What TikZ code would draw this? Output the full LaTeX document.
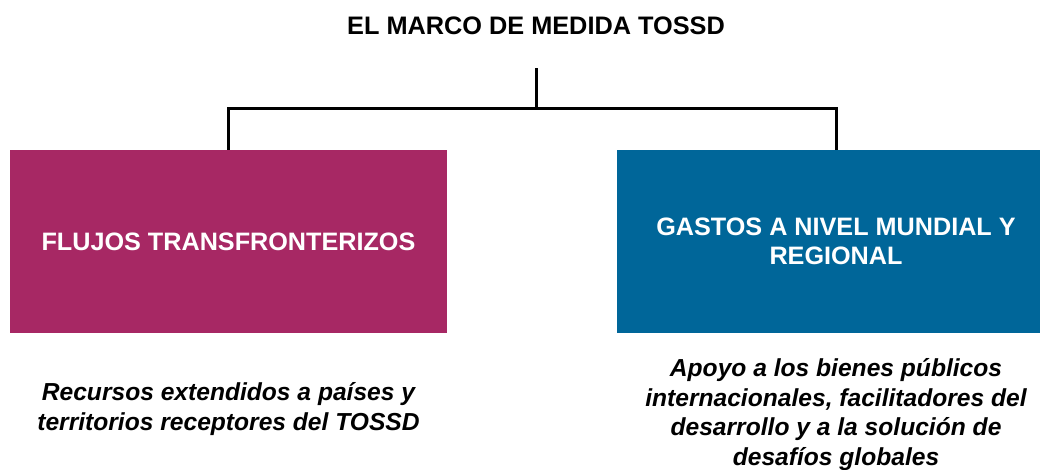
\documentclass[tikz,border=0pt]{standalone}
\usepackage{fontspec}
\setmainfont{Liberation Sans}
\usepackage{xcolor}
\usetikzlibrary{positioning}

\definecolor{flowmagenta}{RGB}{167,40,100}
\definecolor{globalblue}{RGB}{0,102,153}

\begin{document}
\begin{tikzpicture}[x=1pt, y=-1pt,
    framebox/.style={rectangle, minimum width=437pt, minimum height=183pt, inner sep=0pt,
        text=white, font=\fontsize{25.2}{29}\selectfont\bfseries, align=center},
    note/.style={inner sep=0pt, anchor=base, align=center,
        font=\fontsize{24.6}{29.5}\selectfont\bfseries\itshape},
    conn/.style={line width=3pt}]
    \path[use as bounding box, clip] (0,0) rectangle (1040,469);

    % Title
    \node[font=\fontsize{25.3}{29}\selectfont\bfseries, inner sep=0pt] (title) at (536,26) {EL MARCO DE MEDIDA TOSSD};

    % Two branches
    \node[framebox, fill=flowmagenta] (flows) at (228.5,241.5) {FLUJOS TRANSFRONTERIZOS};
    \node[framebox, fill=globalblue, minimum width=438pt] (spend) at (836,241.5) {GASTOS A NIVEL MUNDIAL Y\\REGIONAL};

    % Connectors
    \coordinate (stem) at (536,68);
    \coordinate (split) at (536,108);
    \draw[conn] (stem) -- (split);
    \draw[conn] (split) -| (flows.north);
    \draw[conn] (split) -| (spend.north);

    % Descriptions (base = last line)
    \node[note] (flowsnote) at (228.5,430) {Recursos extendidos a países y\\territorios receptores del TOSSD};
    \node[note] (spendnote) at (836,465) {Apoyo a los bienes públicos\\internacionales, facilitadores del\\desarrollo y a la solución de\\desafíos globales};
\end{tikzpicture}
\end{document}
